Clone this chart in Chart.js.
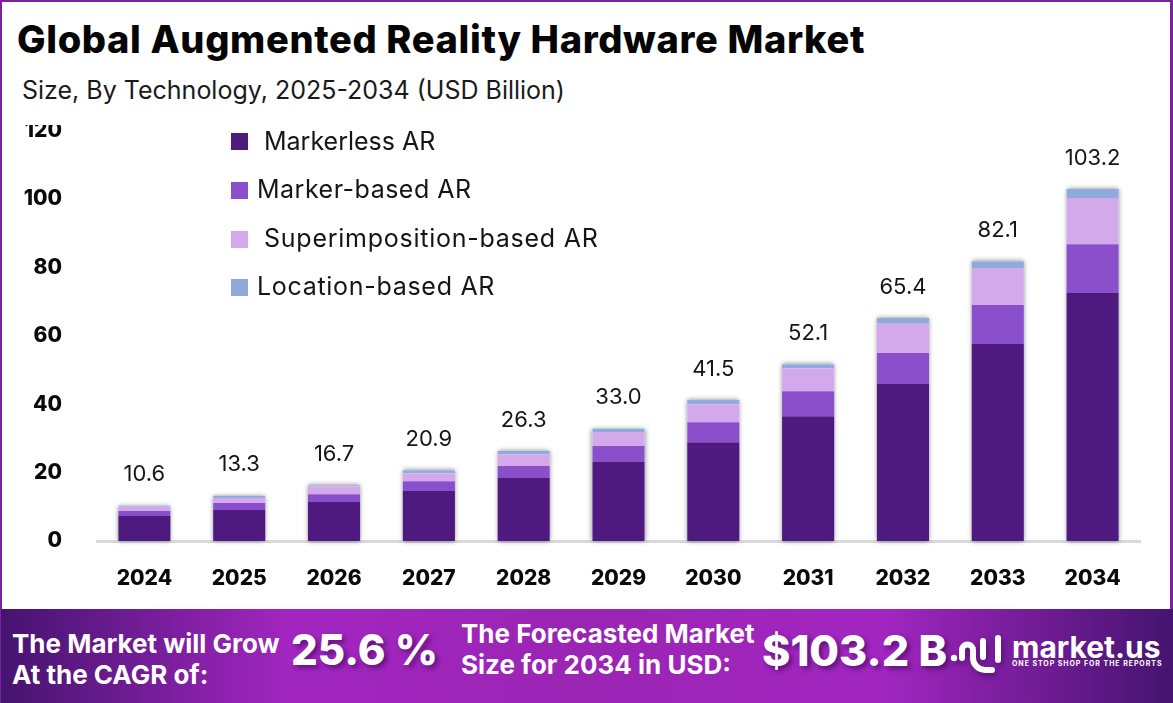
<!DOCTYPE html>
<html>
<head>
<meta charset="utf-8">
<title>Global Augmented Reality Hardware Market</title>
<script src="https://cdn.jsdelivr.net/npm/chart.js@4"></script>
<style>
    html, body { margin: 0; padding: 0; background: #fff; }
    body { width: 1173px; height: 703px; position: relative; overflow: hidden; font-family: Inter, "Noto Sans", sans-serif; color: #0a0a0a; }
    #frame { position: absolute; left: 0; top: 0; width: 1173px; height: 703px; box-sizing: border-box; border: solid #7b22a3; border-width: 2px 3px 0 2px; z-index: 3; pointer-events: none; }
    #metricChart { position: absolute; left: 0; top: 125px; }
    .abs { position: absolute; white-space: nowrap; line-height: 1; }
    #title { left: 17px; top: 20px; font-size: 38px; font-weight: 800; color: #050505; letter-spacing: 0.65px; }
    #subtitle { left: 22px; top: 78px; font-size: 25px; font-weight: 400; color: #1a1a1a; }
    .swatch { position: absolute; width: 17px; height: 17px; z-index: 2; }
    .legendText { font-size: 25px; color: #151515; z-index: 2; }
    #banner { position: absolute; left: 1px; top: 609px; width: 1172px; height: 94px; z-index: 4;
        background: linear-gradient(90deg, #45146f 0%, #a326c1 25%, #9a24b4 50%, #a326c1 75%, #45146f 100%); color: #fff; }
    .bannerText { font-size: 26px; font-weight: 700; }
    .bigText { font-weight: 800; text-shadow: 3px 3px 5px rgba(40,0,70,0.55); }
</style>
</head>
<body>
<div id="frame"></div>
<div id="title" class="abs">Global Augmented Reality Hardware Market</div>
<div id="subtitle" class="abs">Size, By Technology, 2025-2034 (USD Billion)</div>
<div id="legend"></div>
<canvas id="metricChart" width="1173" height="480"></canvas>
<div id="banner">
    <div class="abs bannerText" style="left:11px;top:22px">The Market will Grow</div>
    <div class="abs bannerText" style="left:11px;top:53px">At the CAGR of:</div>
    <div class="abs bigText" style="left:290px;top:20px;font-size:42px">25.6 %</div>
    <div class="abs bannerText" style="left:460px;top:12px">The Forecasted Market</div>
    <div class="abs bannerText" style="left:460px;top:43px">Size for 2034 in USD:</div>
    <div class="abs bigText" style="left:761px;top:20px;font-size:43px">$103.2 B</div>
    <svg class="abs" style="left:945px;top:20px;filter:drop-shadow(2px 3px 3px rgba(40,0,70,0.5))" width="65" height="55" viewBox="0 0 65 55" fill="none" stroke="#fff" stroke-width="6" stroke-linecap="round">
        <circle cx="8" cy="29" r="3.2" fill="#fff" stroke="none"/>
        <path d="M16 29 V21 a5.5 5.5 0 0 1 11 0 V29 a12 12 0 0 0 12 12 H46"/>
        <path d="M37 12 V28"/>
        <path d="M52 9 V31"/>
    </svg>
    <div class="abs" style="left:1011px;top:23px;font-size:30px;font-weight:700">market.us</div>
    <div class="abs" style="left:1011px;top:51px;font-size:7px;font-weight:700;letter-spacing:0.95px">ONE STOP SHOP FOR THE REPORTS</div>
</div>

<script>
const years = ['2024', '2025', '2026', '2027', '2028', '2029', '2030', '2031', '2032', '2033', '2034'];
const markerless = [7.3, 9.1, 11.4, 14.6, 18.4, 23.1, 28.9, 36.5, 45.9, 57.6, 72.5];
const markerBased = [1.5, 2.0, 2.3, 2.9, 3.5, 4.7, 5.8, 7.3, 9.1, 11.4, 14.3];
const superimposition = [1.2, 1.5, 2.3, 2.3, 3.5, 4.1, 5.3, 6.7, 8.5, 10.8, 13.5];
const locationBased = [0.3, 0.6, 0.3, 0.9, 0.9, 0.9, 1.2, 1.2, 1.7, 2.0, 2.6];
const totals = ['10.6', '13.3', '16.7', '20.9', '26.3', '33.0', '41.5', '52.1', '65.4', '82.1', '103.2'];

const seriesNames = ['Markerless AR', 'Marker-based AR', 'Superimposition-based AR', 'Location-based AR'];
const seriesColors = ['#4e1a80', '#8b4fcb', '#d3a9eb', '#8fabdc'];
const seriesValues = [markerless, markerBased, superimposition, locationBased];

// legend is plain html, the original one has uneven spacing
const legendPos = [
    { swatchTop: 133, textLeft: 264, textTop: 129, spacing: 0 },
    { swatchTop: 182, textLeft: 257, textTop: 177, spacing: 0.5 },
    { swatchTop: 231, textLeft: 264, textTop: 226, spacing: 0.75 },
    { swatchTop: 279, textLeft: 257, textTop: 274, spacing: 0.7 }
];
const legendEl = document.getElementById('legend');
seriesNames.forEach((name, i) => {
    const sw = document.createElement('div');
    sw.className = 'swatch';
    sw.style.cssText = `left:231px;top:${legendPos[i].swatchTop}px;background:${seriesColors[i]}`;
    legendEl.appendChild(sw);
    const txt = document.createElement('div');
    txt.className = 'abs legendText';
    txt.style.cssText = `left:${legendPos[i].textLeft}px;top:${legendPos[i].textTop}px;letter-spacing:${legendPos[i].spacing}px`;
    txt.textContent = name;
    legendEl.appendChild(txt);
});

// soft shadow around the whole stack, drawn under the segments
const barShadow = {
    id: 'barShadow',
    beforeDatasetsDraw(chart) {
        const ctx = chart.ctx;
        const bottom = chart.getDatasetMeta(0).data;
        const top = chart.getDatasetMeta(seriesNames.length - 1).data;
        ctx.save();
        ctx.shadowColor = 'rgba(0,0,0,0.5)';
        ctx.shadowBlur = 5;
        ctx.fillStyle = '#fff';
        bottom.forEach((bar, i) => {
            ctx.fillRect(bar.x - bar.width / 2, top[i].y, bar.width, bar.base - top[i].y);
        });
        ctx.restore();
    }
};

// totals over each stack
const totalLabels = {
    id: 'totalLabels',
    afterDraw(chart) {
        const ctx = chart.ctx;
        const yScale = chart.scales.y;
        const xScale = chart.scales.x;
        ctx.save();
        ctx.font = '400 22px Inter, "Noto Sans", sans-serif';
        ctx.fillStyle = '#151515';
        ctx.textAlign = 'center';
        ctx.textBaseline = 'middle';
        totals.forEach((label, i) => {
            let sum = 0;
            seriesValues.forEach(values => { sum += values[i]; });
            ctx.fillText(label, xScale.getPixelForValue(i), yScale.getPixelForValue(sum) - 31);
        });
        ctx.restore();
    }
};

const tickFont = { family: 'Inter, "Noto Sans", sans-serif', size: 21, weight: '800' };

new Chart(document.getElementById('metricChart').getContext('2d'), {
    type: 'bar',
    data: {
        labels: years,
        datasets: seriesNames.map((name, i) => ({
            label: name,
            data: seriesValues[i],
            backgroundColor: seriesColors[i],
            borderWidth: 0,
            barPercentage: 0.55,
            categoryPercentage: 1
        }))
    },
    options: {
        responsive: false,
        animation: false,
        layout: { padding: { top: 5.6, right: 33, left: 0, bottom: 0 } },
        plugins: { legend: { display: false }, title: { display: false }, tooltip: { enabled: false } },
        scales: {
            x: {
                stacked: true,
                grid: { display: false, drawTicks: false },
                border: { color: '#d9d9d9', width: 3 },
                ticks: { color: '#0a0a0a', font: tickFont, padding: 25, maxRotation: 0 },
                afterFit: scale => { scale.height = 64; }
            },
            y: {
                stacked: true,
                min: 0,
                max: 120,
                grid: { display: false, drawTicks: false },
                border: { display: false },
                ticks: { stepSize: 20, color: '#0a0a0a', font: tickFont, padding: 35 },
                // tick padding also pads the top of the scale, drop that so 120 sits at the canvas edge
                afterFit: scale => {
                    scale.width = 97;
                    scale.paddingTop = 0;
                    scale.paddingBottom = 0;
                }
            }
        }
    },
    plugins: [barShadow, totalLabels]
});
</script>
</body>
</html>
